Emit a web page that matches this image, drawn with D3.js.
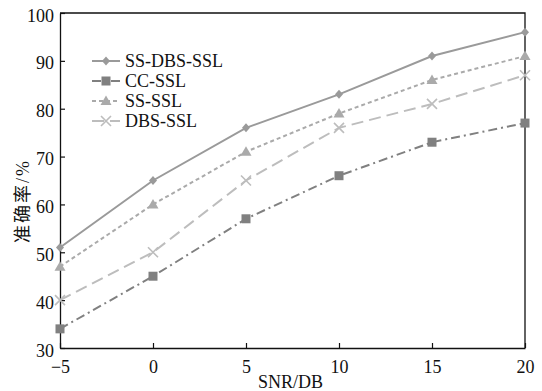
<!DOCTYPE html>
<html>
<head>
<meta charset="utf-8">
<script src="https://cdn.jsdelivr.net/npm/d3@7"></script>
<style>
  body { margin: 0; background: #fff; }
  svg text { font-family: "Liberation Serif", "Noto Sans CJK SC", serif; fill: #111; }
</style>
</head>
<body>
<svg id="chart" width="542" height="391"></svg>
<script>
const snr = [-5, 0, 5, 10, 15, 20];
const yTicks = [30, 40, 50, 60, 70, 80, 90, 100];
const ssDbsSsl = [51, 65, 76, 83, 91, 96];
const ccSsl = [34, 45, 57, 66, 73, 77];
const ssSsl = [47, 60, 71, 79, 86, 91];
const dbsSsl = [40, 50, 65, 76, 81, 87];

const series = [
    { name: "SS-DBS-SSL", values: ssDbsSsl, color: "#9a9a9a", dash: null, marker: "diamond" },
    { name: "CC-SSL", values: ccSsl, color: "#808080", dash: "9,4,2,4", marker: "square" },
    { name: "SS-SSL", values: ssSsl, color: "#aaaaaa", dash: "4,3", marker: "triangle" },
    { name: "DBS-SSL", values: dbsSsl, color: "#bdbdbd", dash: "12,6", marker: "cross" }
];

const svg = d3.select("svg#chart");
const margin = { top: 13, right: 17, bottom: 43, left: 60 };
const width = +svg.attr("width");
const height = +svg.attr("height");
const chartWidth = width - margin.left - margin.right;
const chartHeight = height - margin.top - margin.bottom;

const xScale = d3.scaleLinear().domain([-5, 20]).range([0, chartWidth]);
const yScale = d3.scaleLinear().domain([30, 100]).range([chartHeight, 0]);

const chart = svg.append("g").attr("transform", `translate(${margin.left},${margin.top})`);

// frame: top and right edges
chart.append("path")
    .attr("d", `M0,0H${chartWidth}V${chartHeight}`)
    .attr("fill", "none").attr("stroke", "#111").attr("stroke-width", 1.3);

const fmt = d => d < 0 ? "\u2212" + Math.abs(d) : d;

const leftAxis = chart.append("g")
    .call(d3.axisLeft(yScale).tickValues(yTicks).tickSizeInner(-5).tickSizeOuter(0).tickPadding(6));
const bottomAxis = chart.append("g")
    .attr("transform", `translate(0,${chartHeight})`)
    .call(d3.axisBottom(xScale).tickValues(snr).tickFormat(fmt).tickSizeInner(-5).tickSizeOuter(0).tickPadding(12));

[leftAxis, bottomAxis].forEach(a => {
    a.attr("font-family", null);
    a.select(".domain").attr("stroke", "#111").attr("stroke-width", 1.3);
    a.selectAll(".tick line").attr("stroke", "#111").attr("stroke-width", 1.2);
    a.selectAll("text").attr("font-size", 18).attr("fill", "#111");
});
leftAxis.selectAll("text").attr("dy", "0.45em");
bottomAxis.selectAll("text").attr("dy", "0.7em");

// axis titles
svg.append("text")
    .attr("x", margin.left + chartWidth / 2 - 2)
    .attr("y", 388)
    .attr("text-anchor", "middle")
    .attr("font-size", 18)
    .text("SNR/DB");
svg.append("text")
    .attr("transform", `translate(29,201) rotate(-90)`)
    .attr("text-anchor", "middle")
    .attr("font-size", 18)
    .attr("letter-spacing", 2)
    .text("准确率/%");

function drawMarker(g, type, color) {
    if (type === "diamond") {
        g.append("path").attr("d", "M0,-4.5L4,0L0,4.5L-4,0Z").attr("fill", color);
    } else if (type === "square") {
        g.append("rect").attr("x", -4.5).attr("y", -4.5).attr("width", 9).attr("height", 9).attr("fill", color);
    } else if (type === "triangle") {
        g.append("path").attr("d", "M0,-5.5L5.5,4L-5.5,4Z").attr("fill", color);
    } else {
        g.append("path").attr("d", "M-5,-5L5,5M-5,5L5,-5").attr("stroke", color).attr("stroke-width", 1.6);
    }
}

const line = d3.line().x((d, i) => xScale(snr[i])).y(d => yScale(d));

series.forEach(s => {
    chart.append("path")
        .datum(s.values)
        .attr("d", line)
        .attr("fill", "none")
        .attr("stroke", s.color)
        .attr("stroke-width", 2)
        .attr("stroke-dasharray", s.dash);
    s.values.forEach((v, i) => {
        const g = chart.append("g").attr("transform", `translate(${xScale(snr[i])},${yScale(v)})`);
        drawMarker(g, s.marker, s.color);
    });
});

// legend
const legend = svg.append("g").attr("transform", "translate(92,61)");
series.forEach((s, i) => {
    const row = legend.append("g").attr("transform", `translate(0,${i * 20})`);
    row.append("line").attr("x1", 0).attr("x2", 28).attr("y1", 0).attr("y2", 0)
        .attr("stroke", s.color).attr("stroke-width", 2).attr("stroke-dasharray", s.dash);
    drawMarker(row.append("g").attr("transform", "translate(14,0)"), s.marker, s.color);
    row.append("text").attr("x", 33).attr("y", 0).attr("dy", "0.35em")
        .attr("font-size", 18).text(s.name);
});
</script>
</body>
</html>
